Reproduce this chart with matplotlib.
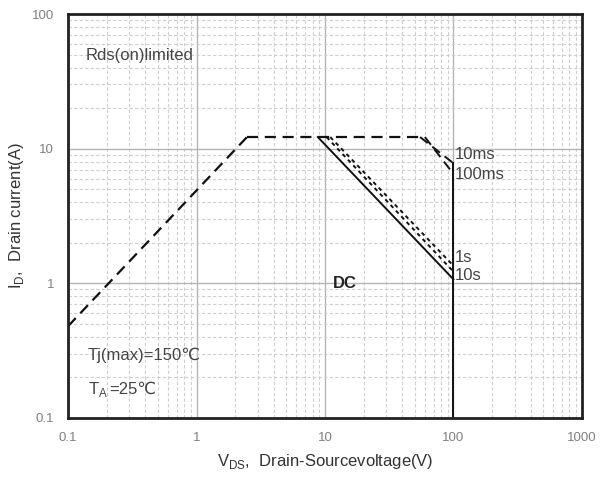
import matplotlib.pyplot as plt
from matplotlib.ticker import LogLocator, NullFormatter, FixedFormatter, FixedLocator

plt.rcParams['font.family'] = ['Liberation Sans', 'DejaVu Sans']

# Rds(on) limited line and pulse-limited boundaries
rds_v = [0.1, 2.47]
rds_i = [0.48, 12.2]
flat_v = [2.47, 55]
flat_i = [12.2, 12.2]
ms10_v = [55, 100]
ms10_i = [12.2, 7.8]
ms100_v = [60, 100]
ms100_i = [12.2, 6.5]
s1_v = [11.0, 100]
s1_i = [12.2, 1.35]
s10_v = [10.3, 100]
s10_i = [12.2, 1.22]
dc_v = [8.8, 100]
dc_i = [12.2, 1.07]
bv_v = [100, 100]
bv_i = [0.1, 7.8]

x_ticks = [0.1, 1, 10, 100, 1000]
x_labels = ['0.1', '1', '10', '100', '1000']
y_ticks = [0.1, 1, 10, 100]
y_labels = ['0.1', '1', '10', '100']

fig = plt.figure(figsize=(6.08, 4.87), dpi=100)
ax = fig.add_axes([0.112, 0.142, 0.845, 0.829])
ax.set_xscale('log')
ax.set_yscale('log')
ax.set_xlim(0.1, 1000)
ax.set_ylim(0.1, 100)

ax.xaxis.set_major_locator(FixedLocator(x_ticks))
ax.xaxis.set_major_formatter(FixedFormatter(x_labels))
ax.yaxis.set_major_locator(FixedLocator(y_ticks))
ax.yaxis.set_major_formatter(FixedFormatter(y_labels))
ax.xaxis.set_minor_locator(LogLocator(base=10, subs=range(2, 10)))
ax.yaxis.set_minor_locator(LogLocator(base=10, subs=range(2, 10)))
ax.xaxis.set_minor_formatter(NullFormatter())
ax.yaxis.set_minor_formatter(NullFormatter())
ax.tick_params(which='both', length=0, labelsize=9.5, labelcolor='#808080', pad=10)

ax.grid(which='major', color='#b5b5b5', lw=1.0, ls='-')
ax.grid(which='minor', color='#cfcfcf', lw=0.8, ls=(0, (3, 2)))
ax.set_axisbelow(True)
for sp in ax.spines.values():
    sp.set_linewidth(2.0)
    sp.set_color('#222222')

dash = (0, (5, 3))
ax.plot(rds_v, rds_i, color='#111111', lw=1.6, ls=dash)
ax.plot(flat_v, flat_i, color='#111111', lw=1.6, ls=dash)
ax.plot(ms10_v, ms10_i, color='#111111', lw=1.4, ls=dash)
ax.plot(ms100_v, ms100_i, color='#111111', lw=1.4, ls=dash)
ax.plot(s1_v, s1_i, color='#111111', lw=1.4, ls=(0, (2, 2)))
ax.plot(s10_v, s10_i, color='#111111', lw=1.4, ls=(0, (2, 2)))
ax.plot(dc_v, dc_i, color='#111111', lw=1.4, ls='-')
ax.plot(bv_v, bv_i, color='#111111', lw=1.4, ls='-')

lbl = dict(fontsize=12, color='#444444', va='center')
ax.text(102, 9.0, '10ms', **lbl)
ax.text(102, 6.4, '100ms', **lbl)
ax.text(102, 1.55, '1s', **lbl)
ax.text(102, 1.14, '10s', **lbl)
ax.text(11.5, 1.0, 'DC', fontsize=12, fontweight='bold', color='#222222', va='center')

ax.text(0.136, 49, 'Rds(on)limited', **lbl)
ax.text(0.143, 0.29, 'Tj(max)=150℃', **lbl)

# T with small A, then the rest of the text right after it
ta = ax.text(0.143, 0.15, r'T$_{\mathregular{A}}$', fontsize=12, color='#444444', va='baseline')
fig.canvas.draw()
bb = ta.get_window_extent()
x0, y0 = ax.transData.transform((0.143, 0.15))
ax.text(bb.x1 + 1, y0, '=25℃', fontsize=12, color='#444444', va='baseline',
        transform=None)

ax.set_xlabel(r'V$_{\mathregular{DS}}$,  Drain-Sourcevoltage(V)', fontsize=12, color='#333333', labelpad=6)
ax.set_ylabel(r'I$_{\mathregular{D}}$,  Drain current(A)', fontsize=12, color='#333333', labelpad=4)

fig.savefig('out.png', dpi=100)
